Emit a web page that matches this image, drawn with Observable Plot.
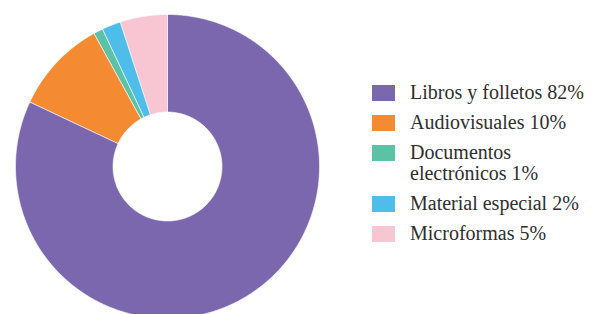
<!DOCTYPE html>
<html><head><meta charset="utf-8">
<script src="https://cdn.jsdelivr.net/npm/d3@7"></script>
<script src="https://cdn.jsdelivr.net/npm/@observablehq/plot@0.6"></script>
<style>
html,body{margin:0;padding:0;background:#fff;overflow:hidden;}
#wrap{position:relative;width:594px;height:314px;}
#chart svg{overflow:hidden;display:block;}
#legend{position:absolute;left:372px;top:82px;font-family:"Liberation Serif","Tinos","DejaVu Serif",serif;font-size:20px;line-height:21px;color:#2e2e2e;}
.item{display:flex;align-items:flex-start;margin-bottom:9px;}
.sw{width:23px;height:16px;margin-top:3px;margin-right:15px;flex:none;}
.lab{width:185px;}
</style></head>
<body><div id="wrap"><div id="chart"></div><div id="legend"></div></div>
<script>
const categories = ["Libros y folletos", "Audiovisuales", "Documentos electrónicos", "Material especial", "Microformas"];
const values = [82, 10, 1, 2, 5];
const colors = ["#7b67ad", "#f48a32", "#5bc2a6", "#4fbde9", "#f8c5d2"];

const total = d3.sum(values);
const inner = 54.5 / 152;
const points = [];
let acc = 0;
categories.forEach((c, i) => {
  const a0 = acc / total * 2 * Math.PI;
  acc += values[i];
  const a1 = acc / total * 2 * Math.PI;
  const n = Math.max(4, Math.ceil((a1 - a0) / 0.01));
  for (let k = 0; k <= n; k++) {
    const t = a0 + (a1 - a0) * k / n;
    points.push({cat: c, x: Math.sin(t), y: Math.cos(t)});
  }
  for (let k = n; k >= 0; k--) {
    const t = a0 + (a1 - a0) * k / n;
    points.push({cat: c, x: inner * Math.sin(t), y: inner * Math.cos(t)});
  }
});

const cx = 167, cy = 166, R = 152, W = 340, H = 314;
const plot = Plot.plot({
  width: W, height: H, margin: 0,
  x: {domain: [-cx / R, (W - cx) / R], axis: null},
  y: {domain: [(cy - H) / R, cy / R], axis: null},
  color: {domain: categories, range: colors},
  marks: [
    Plot.line(points, {x: "x", y: "y", z: "cat", fill: "cat", stroke: "white", strokeWidth: 0.6, curve: "linear-closed"})
  ]
});
document.getElementById("chart").appendChild(plot);

const leg = document.getElementById("legend");
categories.forEach((c, i) => {
  const it = document.createElement("div");
  it.className = "item";
  const sw = document.createElement("div");
  sw.className = "sw";
  sw.style.background = colors[i];
  const lab = document.createElement("div");
  lab.className = "lab";
  lab.textContent = c + " " + values[i] + "%";
  it.appendChild(sw); it.appendChild(lab);
  leg.appendChild(it);
});
</script></body></html>
